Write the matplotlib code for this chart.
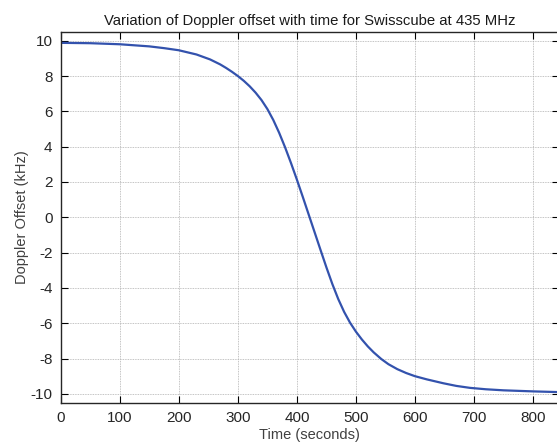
import matplotlib
matplotlib.use("Agg")
import matplotlib.pyplot as plt

# Doppler offset (seconds, kHz)
time_s = [0, 50, 100, 150, 175, 200, 230, 253, 270, 280, 290, 300, 310, 320,
          330, 340, 350, 360, 370, 380, 390, 400, 410, 420, 430, 440, 450,
          460, 470, 480, 490, 500, 510, 520, 530, 543, 555, 570, 585, 600,
          620, 648, 670, 693, 720, 750, 800, 843]
doppler_khz = [9.88, 9.86, 9.8, 9.68, 9.58, 9.46, 9.22, 8.94, 8.66, 8.46,
               8.24, 8.0, 7.73, 7.42, 7.06, 6.64, 6.13, 5.51, 4.78, 3.96,
               3.07, 2.13, 1.15, 0.15, -0.85, -1.85, -2.84, -3.78, -4.63,
               -5.36, -5.97, -6.48, -6.92, -7.31, -7.65, -8.03, -8.32, -8.6,
               -8.82, -9.0, -9.18, -9.4, -9.55, -9.66, -9.74, -9.8, -9.86,
               -9.9]

x_ticks = [0, 100, 200, 300, 400, 500, 600, 700, 800]
y_ticks = [-10, -8, -6, -4, -2, 0, 2, 4, 6, 8, 10]

plt.rcParams["font.family"] = ["Liberation Sans", "DejaVu Sans"]
plt.rcParams["axes.unicode_minus"] = False

fig = plt.figure(figsize=(5.57, 4.43), dpi=100)
# right spine sits just past the image edge, as in the reference crop
ax = fig.add_axes([0.109, 0.091, 0.8937, 0.837])

ax.plot(time_s, doppler_khz, color="#3352AD", linewidth=1.6)

ax.set_xlim(0, 843)
ax.set_ylim(-10.5, 10.5)
ax.set_xticks(x_ticks)
ax.set_yticks(y_ticks)

ax.grid(True, linestyle=(0, (1, 1)), color="#b0b0b0", linewidth=0.6)
ax.tick_params(direction="in", length=5, width=0.8, top=True, right=True,
               labelsize=11, labelcolor="#262626", pad=6)
for s in ax.spines.values():
    s.set_linewidth(1.0)
    s.set_color("#262626")

ax.set_title("Variation of Doppler offset with time for Swisscube at 435 MHz",
             fontsize=10.7, color="#1a1a1a", pad=5)
ax.set_xlabel("Time (seconds)", fontsize=10.5, color="#404040", labelpad=2)
ax.set_ylabel("Doppler Offset (kHz)", fontsize=10.5, color="#404040", labelpad=1)

fig.savefig("out.png", dpi=100)
